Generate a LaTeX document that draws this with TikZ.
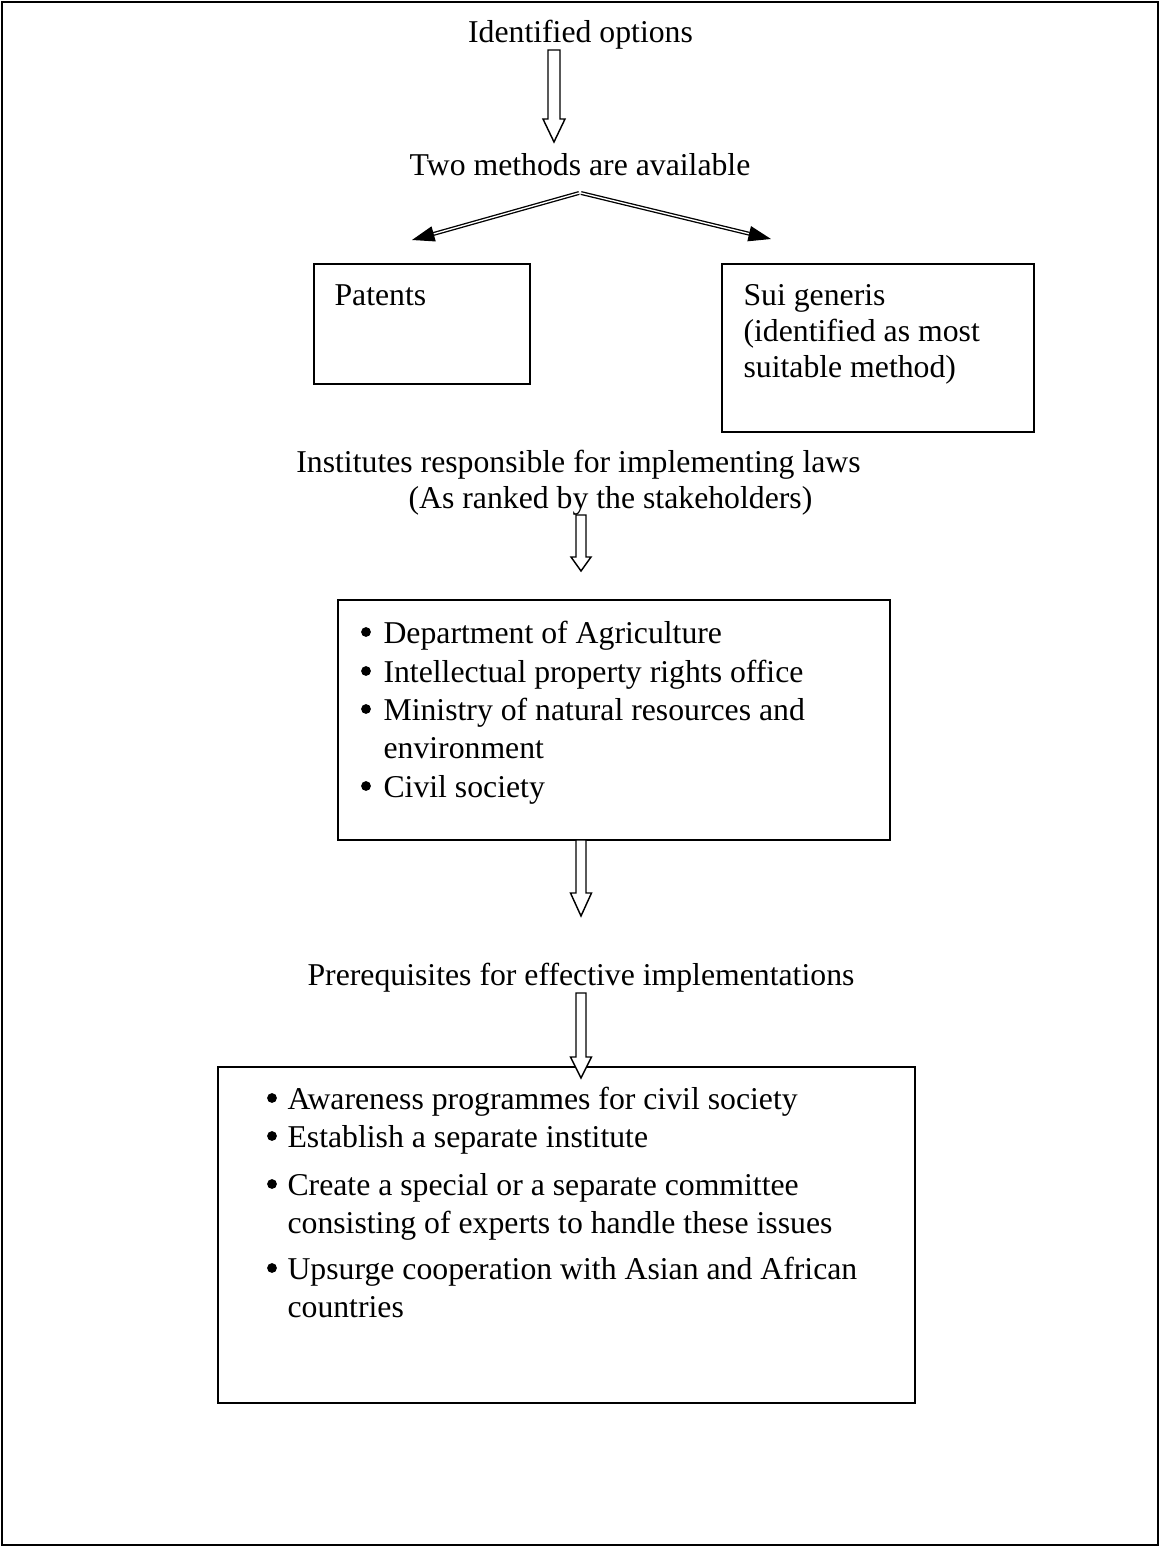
\documentclass[tikz,border=0pt]{standalone}
\usepackage{fontspec}
\setmainfont{Liberation Serif}
\usetikzlibrary{arrows.meta,fit}
\newcommand\hollowarrow[6]{%
  % #1 x, #2 top, #3 head start, #4 tip, #5 shaft half, #6 head half
  \draw[harrow] (#1-#5,#2) -- (#1+#5,#2) -- (#1+#5,#3) -- (#1+#6,#3) -- (#1,#4)
    -- (#1-#6,#3) -- (#1-#5,#3) -- cycle;}
\begin{document}
\begin{tikzpicture}[x=0.378pt,y=-0.378pt,
  txt/.style={inner sep=0pt,anchor=base,font=\fontsize{12pt}{14pt}\selectfont},
  ltxt/.style={txt,anchor=base west},
  dot/.style={circle,fill=black,inner sep=0pt,minimum size=3.7pt},
  box/.style={draw,line width=0.7pt,inner sep=0pt},
  harrow/.style={draw,line width=0.55pt,fill=white,line join=miter},
  split/.style={double,double distance=0.5pt,line width=0.5pt,
    -{Triangle[length=8.5pt,width=5.8pt]}}]
\useasboundingbox (0,0) rectangle (1160,1547);
\draw[line width=1pt] (2,2) rectangle (1158,1545);

% top
\node[txt] (id) at (580.5,43) {Identified options};
\node[txt] (two) at (580,175) {Two methods are available};
\hollowarrow{554}{50}{119}{142}{6}{11}

% split arrows
\coordinate (apexL) at (579,193);
\coordinate (apexR) at (581,193);
\coordinate (tipL) at (412,240);
\coordinate (tipR) at (771,239);
\draw[split] (apexL) -- (tipL);
\draw[split] (apexR) -- (tipR);

% boxes row
\node[box,fit={(314,264) (530,384)}] (patbox) {};
\node[ltxt] (pat) at (334,305) {Patents};
\node[box,fit={(722,264) (1034,432)}] (suibox) {};
\node[ltxt] (sui1) at (743,305) {Sui generis};
\node[ltxt] (sui2) at (743,341) {(identified as most};
\node[ltxt] (sui3) at (743,377) {suitable method)};

% institutes
\node[txt] (inst1) at (578.5,472) {Institutes responsible for implementing laws};
\node[txt] (inst2) at (610.5,508) {(As ranked by the stakeholders)};
\hollowarrow{581}{515}{557}{571}{5}{10}

\node[box,fit={(338,600) (890,840)}] (box3) {};
\node[dot] (d31) at (366,632) {};
\node[dot] (d32) at (366,671) {};
\node[dot] (d33) at (366,709) {};
\node[dot] (d35) at (366,786) {};
\node[ltxt] (b31) at (383,643) {Department of Agriculture};
\node[ltxt] (b32) at (383,682) {Intellectual property rights office};
\node[ltxt] (b33) at (383,720) {Ministry of natural resources and};
\node[ltxt] (b34) at (383,758) {environment};
\node[ltxt] (b35) at (383,797) {Civil society};
\hollowarrow{581}{840}{893}{916}{5}{10.5}

\node[txt] (pre) at (581,985) {Prerequisites for effective implementations};

\node[box,fit={(218,1067) (915,1403)}] (box4) {};
\hollowarrow{581}{993}{1057}{1078}{5}{10.5}
\node[dot] (d41) at (272,1098) {};
\node[dot] (d42) at (272,1136) {};
\node[dot] (d43) at (272,1184) {};
\node[dot] (d45) at (272,1268) {};
\node[ltxt] (b41) at (287,1109) {Awareness programmes for civil society};
\node[ltxt] (b42) at (287,1147) {Establish a separate institute};
\node[ltxt] (b43) at (287,1195) {Create a special or a separate committee};
\node[ltxt] (b44) at (287,1233) {consisting of experts to handle these issues};
\node[ltxt] (b45) at (287,1279) {Upsurge cooperation with Asian and African};
\node[ltxt] (b46) at (287,1317) {countries};
\end{tikzpicture}
\end{document}
